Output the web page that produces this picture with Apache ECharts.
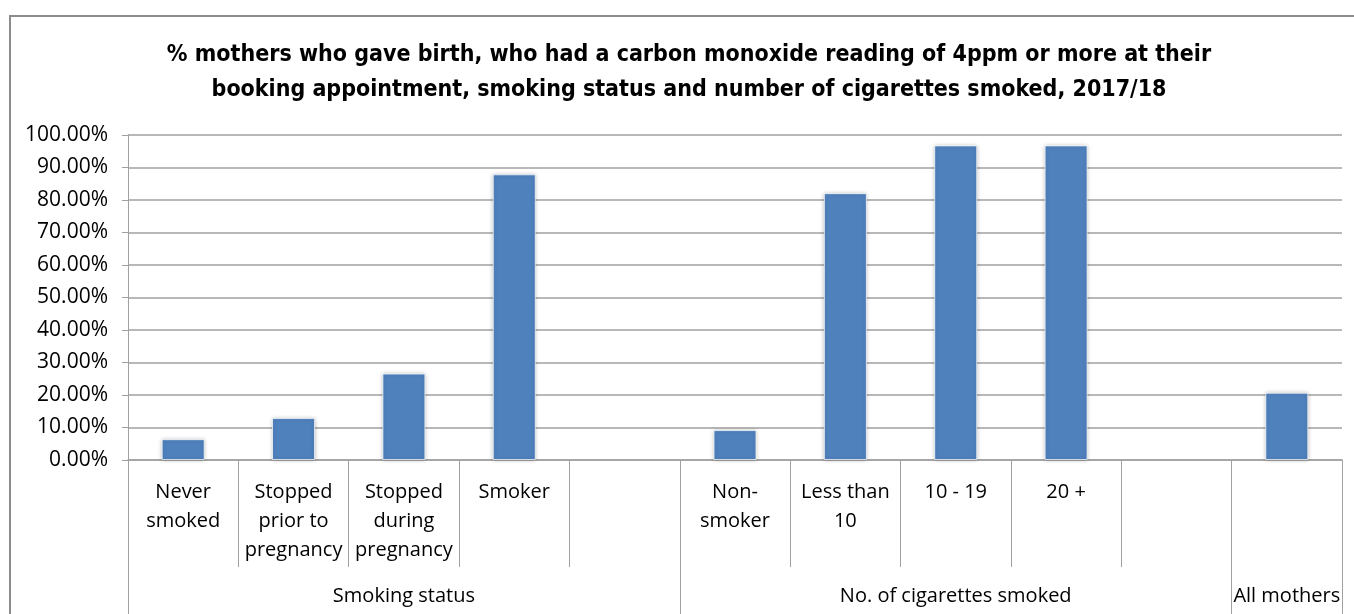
<!DOCTYPE html>
<html>
<head>
<meta charset="utf-8">
<script src="https://cdn.jsdelivr.net/npm/echarts@6/dist/echarts.min.js"></script>
<style>
  html, body { margin: 0; padding: 0; background: #ffffff; overflow: hidden; }
  #frame { position: absolute; left: 9px; top: 15px; width: 2000px; height: 2000px; border: 2px solid #8c8c8c; box-sizing: border-box; }
  #chart { position: absolute; left: 0; top: 0; width: 1354px; height: 614px; }
</style>
</head>
<body>
<div id="frame"></div>
<div id="chart"></div>
<script>
// ---- data ----
const titleText = '% mothers who gave birth, who had a carbon monoxide reading of 4ppm or more at their\nbooking appointment, smoking status and number of cigarettes smoked, 2017/18';
const categories = ['Never\nsmoked', 'Stopped\nprior to\npregnancy', 'Stopped\nduring\npregnancy', 'Smoker', '',
                    'Non-\nsmoker', 'Less than\n10', '10 - 19', '20 +', '', 'All mothers'];
const groupLabels = ['', '', 'Smoking status', '', '', '', '', 'No. of cigarettes smoked', '', '', 'All mothers'];
const groupStartIndices = [0, 5, 10];
const values = [0.064, 0.129, 0.266, 0.879, null, 0.092, 0.821, 0.968, 0.968, null, 0.207];
const yTicks = { min: 0, max: 1, interval: 0.1 };

const chart = echarts.init(document.getElementById('chart'), null, { renderer: 'canvas' });
const labelFont = "'Open Sans', 'Liberation Sans', sans-serif";
const gray = '#a0a0a0';

const catLabelsOnly = categories.map((c, i) => (i === 10 ? '' : c));

chart.setOption({
  backgroundColor: 'transparent',
  animation: false,
  title: {
    text: titleText,
    left: 689,
    top: 38,
    textAlign: 'center',
    padding: 0,
    textStyle: {
      fontFamily: "'DejaVu Sans Condensed', 'DejaVu Sans', sans-serif",
      fontWeight: 'bold',
      fontSize: 23,
      lineHeight: 35,
      color: '#000000'
    }
  },
  grid: { left: 128, right: 12, top: 135, bottom: 154, containLabel: false },
  yAxis: {
    type: 'value',
    min: yTicks.min,
    max: yTicks.max,
    interval: yTicks.interval,
    axisLine: { show: true, lineStyle: { color: gray, width: 1 } },
    axisTick: { show: true, length: 6, lineStyle: { color: gray } },
    splitLine: { show: true, lineStyle: { color: gray, width: 1.5 } },
    axisLabel: {
      margin: 20,
      fontFamily: labelFont,
      fontSize: 21,
      color: '#000000',
      formatter: v => (v * 100).toFixed(2) + '%'
    }
  },
  xAxis: [
    {
      type: 'category',
      data: catLabelsOnly,
      position: 'bottom',
      axisLine: { show: true, lineStyle: { color: gray, width: 1.5 } },
      axisTick: { show: true, length: 107, interval: 0, lineStyle: { color: gray, width: 1 } },
      axisLabel: {
        interval: 0,
        margin: 18,
        fontFamily: labelFont,
        fontSize: 20,
        lineHeight: 29,
        color: '#000000',
        verticalAlign: 'top'
      }
    },
    {
      type: 'category',
      data: groupLabels,
      position: 'bottom',
      offset: 0,
      axisLine: { show: false },
      axisTick: {
        show: true,
        length: 160,
        interval: (idx) => groupStartIndices.indexOf(idx) >= 0,
        lineStyle: { color: gray, width: 1 }
      },
      axisLabel: {
        interval: 0,
        margin: 126,
        fontFamily: labelFont,
        fontSize: 20,
        color: '#000000'
      }
    }
  ],
  series: [
    {
      type: 'bar',
      xAxisIndex: 0,
      data: values,
      barWidth: 43,
      itemStyle: {
        color: '#4f81bd',
        borderColor: 'rgba(255,255,255,0.7)',
        borderWidth: 1,
        shadowBlur: 4,
        shadowColor: 'rgba(0,0,0,0.25)'
      }
    }
  ]
});
</script>
</body>
</html>
